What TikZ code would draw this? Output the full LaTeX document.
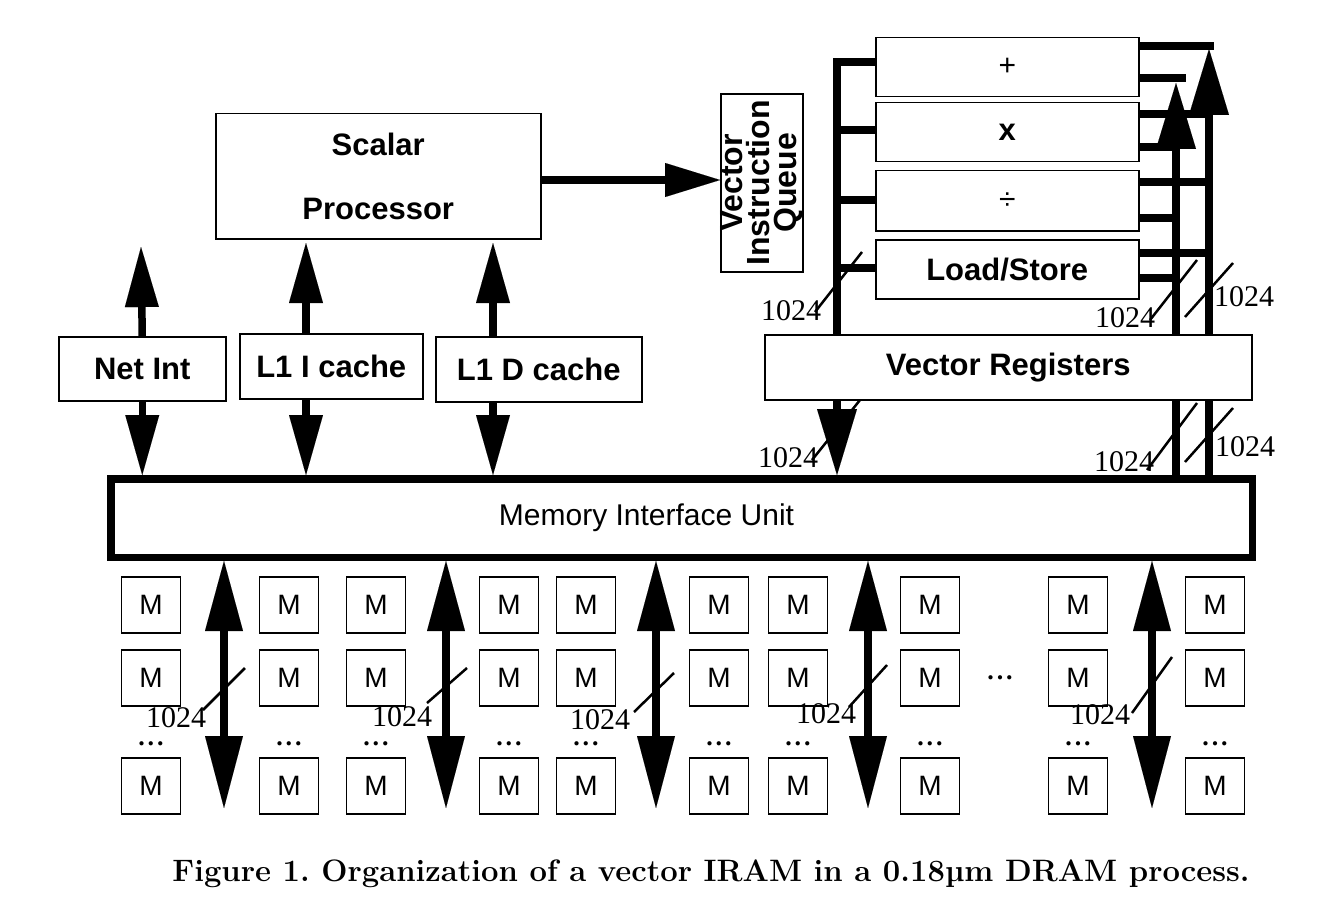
\documentclass[tikz,border=0pt]{standalone}
\usepackage{fontspec}
\newfontfamily\hv{Liberation Sans}
\newfontfamily\tm{Liberation Serif}
\usetikzlibrary{arrows.meta}
\pgfdeclarelayer{bg}
\pgfsetlayers{bg,main}
\tikzset{
  box/.style={draw, line width=1.5pt, fill=white, inner sep=0pt, anchor=north west, align=center},
  lbl/.style={font=\hv\bfseries\fontsize{31}{34}\selectfont},
  mbox/.style={draw, line width=1.5pt, fill=white, minimum width=59pt, minimum height=56pt, inner sep=0pt, font=\hv\fontsize{28}{30}\selectfont},
  bus/.style={line width=7.5pt},
  carr/.style={bus, -{Triangle[width=34pt,length=60pt,line width=0.01pt]}},
  parr/.style={bus, -{Triangle[width=34pt,length=55pt,line width=0.01pt]}},
  rarr/.style={line width=8.5pt, -{Triangle[width=40pt,length=66pt,line width=0.01pt]}},
  marr/.style={line width=8pt, {Triangle[width=38pt,length=70pt,line width=0.01pt]}-{Triangle[width=38pt,length=72pt,line width=0.01pt]}},
  num/.style={font=\tm\fontsize{30}{30}\selectfont, inner sep=0pt},
  slash/.style={line width=2.5pt},
  dotlbl/.style={font=\tm\bfseries\fontsize{26}{26}\selectfont, inner sep=0pt},
}
\begin{document}
\begin{tikzpicture}[x=1pt,y=-1pt]
\useasboundingbox (0,0) rectangle (1323,923);
\begin{pgfonlayer}{bg}
\fill[white] (0,0) rectangle (1323,923);
\end{pgfonlayer}

% scalar side
\node[box,lbl,minimum width=325pt,minimum height=125pt] (sp) at (215,113) {Scalar\\[30pt]Processor};
\node[box,lbl,rotate=90,anchor=center,minimum width=178pt,minimum height=82pt,font=\hv\bfseries\fontsize{32}{27}\selectfont] (viq) at (762,183) {Vector\\Instruction\\Queue};
\node[box,lbl,minimum width=167pt,minimum height=64pt] (net) at (58,336) {Net Int};
\node[box,lbl,minimum width=183pt,minimum height=65pt] (l1i) at (239,333) {L1 I cache};
\node[box,lbl,minimum width=206pt,minimum height=65pt] (l1d) at (435,336) {L1 D cache};

% vector side
\node[box,minimum width=263pt,minimum height=59pt,font=\hv\fontsize{30}{30}\selectfont] (fu1) at (875,37) {+};
\node[box,lbl,minimum width=263pt,minimum height=59pt] (fu2) at (875,102) {x};
\node[box,minimum width=263pt,minimum height=60pt,font=\hv\fontsize{30}{30}\selectfont] (fu3) at (875,170) {÷};
\node[box,lbl,minimum width=263pt,minimum height=59pt] (fu4) at (875,239) {Load/Store};
\node[box,lbl,minimum width=487pt,minimum height=65pt] (vr) at (764,334) {Vector Registers};

% memory interface
\node[box,line width=7.5pt,minimum width=1141.5pt,minimum height=78.5pt,font=\hv\fontsize{30}{30}\selectfont] (miu) at (107,475) {\hspace*{-70pt}Memory Interface Unit};

% memory banks
\foreach \x [count=\i] in {151,289,376,509,586,719,798,930,1078,1215} {
  \foreach \y [count=\j] in {605,678,786} {
    \node[mbox] (m\i-\j) at (\x,\y) {M};
  }
  \node[dotlbl] (d\i) at (\x,744) {.\hspace{3pt}.\hspace{3pt}.};
}
\node[dotlbl] (dmid) at (1000,678) {.\hspace{3pt}.\hspace{3pt}.};

% caption
\node[font=\bfseries\fontsize{31}{34}\selectfont, inner sep=0pt] (cap) at (711,874) {\frenchspacing Figure 1. Organization of a vector IRAM in a 0.18µm DRAM process.};

% coordinates
\coordinate (nt) at (141,247);
\coordinate (it) at (306,243);
\coordinate (dt) at (493,243);
\coordinate (lb) at (837,62);
\coordinate (rA) at (1176,83);
\coordinate (rB) at (1209,49);

\begin{pgfonlayer}{bg}
% scalar -> queue
\draw[parr] (sp.east |- 0,180) -- (viq.north |- 0,180);
% caches
\draw[carr] (net.north) -- (nt);
\draw[carr] (net.south) -- (net.south |- miu.north);
\draw[carr] (it |- l1i.north) -- (it);
\draw[carr] (it |- l1i.south) -- (it |- miu.north);
\draw[carr] (dt |- l1d.north) -- (dt);
\draw[carr] (dt |- l1d.south) -- (dt |- miu.north);
% left bus
\draw[bus,-{Triangle[width=40pt,length=66pt,line width=0.01pt]}] (fu1.west |- lb) -- (lb) -- (lb |- miu.north);
\draw[bus] (fu2.west |- 0,130) -- (lb |- 0,130);
\draw[bus] (fu3.west |- 0,200) -- (lb |- 0,200);
\draw[bus] (fu4.west |- 0,268) -- (lb |- 0,268);
% right buses
\draw[rarr] (rA |- miu.north) -- (rA);
\draw[rarr] (rB |- miu.north) -- (rB);
\draw[bus] (fu1.east |- 0,46) -- (1214,46);
\draw[bus] (fu1.east |- 0,78) -- (1186,78);
\draw[bus] (fu2.east |- 0,114) -- (rB |- 0,114);
\draw[bus] (fu2.east |- 0,147) -- (rA |- 0,147);
\draw[bus] (fu3.east |- 0,182) -- (rB |- 0,182);
\draw[bus] (fu3.east |- 0,218) -- (rA |- 0,218);
\draw[bus] (fu4.east |- 0,253) -- (rB |- 0,253);
\draw[bus] (fu4.east |- 0,278) -- (rA |- 0,278);
% memory arrows
\foreach \x [count=\i] in {224,446,656,868,1152} {
  \coordinate (mb\i) at (\x,808);
  \draw[marr] (mb\i |- miu.south) -- (mb\i);
}
\end{pgfonlayer}

% width markers
\draw[slash] (815,312) -- (862,252);
\node[num] (n1) at (791,311) {1024};
\draw[slash] (812,460) -- (860,400);
\node[num] (n2) at (788,458) {1024};
\draw[slash] (1150,320) -- (1197,260);
\node[num] (n3) at (1125,318) {1024};
\draw[slash] (1185,317) -- (1233,263);
\node[num] (n4) at (1244,297) {1024};
\draw[slash] (1147,470) -- (1197,403);
\node[num] (n5) at (1124,462) {1024};
\draw[slash] (1185,462) -- (1233,408);
\node[num] (n6) at (1245,447) {1024};

\draw[slash] (203,710) -- (245,668);
\node[num] (n7) at (176,718) {1024};
\draw[slash] (427,703) -- (467,668);
\node[num] (n8) at (402,717) {1024};
\draw[slash] (634,712) -- (674,673);
\node[num] (n9) at (600,720) {1024};
\draw[slash] (849,707) -- (887,665);
\node[num] (n10) at (826,714) {1024};
\draw[slash] (1132,713) -- (1172,657);
\node[num] (n11) at (1100,715) {1024};
\end{tikzpicture}
\end{document}
